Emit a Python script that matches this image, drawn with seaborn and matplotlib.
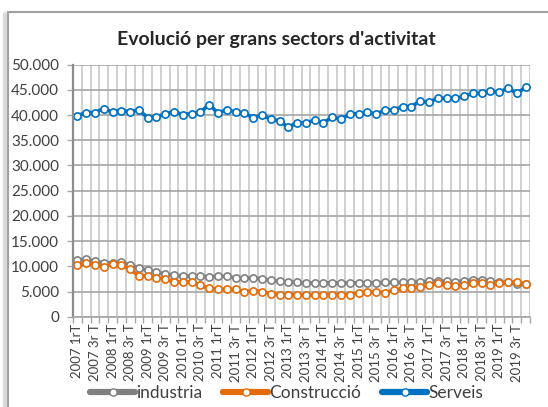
import numpy as np
import pandas as pd
import seaborn as sns
import matplotlib.pyplot as plt
from matplotlib.ticker import FuncFormatter, MultipleLocator
from matplotlib.lines import Line2D

sns.set_style("white")
plt.rcParams["font.family"] = ["Lato", "DejaVu Sans"]

# trimestres 2007 1rT - 2019 4t T
anys = list(range(2007, 2020))
trimestres = [f"{a} {q}" for a in anys for q in ["1rT", "2n T", "3r T", "4t T"]]

industria = [11.25, 11.4, 11.0, 10.7, 10.7, 10.8, 10.3, 9.7, 9.2, 8.8,
             8.5, 8.2, 8.1, 8.0, 8.0, 7.9, 8.0, 8.0, 7.7, 7.6,
             7.7, 7.5, 7.25, 7.0, 6.9, 6.8, 6.7, 6.7, 6.7, 6.7,
             6.7, 6.7, 6.7, 6.7, 6.7, 6.8, 6.8, 6.8, 6.8, 6.9,
             7.0, 7.1, 7.0, 6.9, 7.1, 7.3, 7.3, 7.1, 6.8, 6.8,
             6.5, 6.5]
construccio = [10.2, 10.6, 10.2, 9.9, 10.5, 10.2, 9.4, 8.1, 8.1, 7.7,
               7.5, 6.9, 6.9, 6.9, 6.2, 5.6, 5.4, 5.5, 5.4, 5.0,
               5.1, 5.0, 4.6, 4.35, 4.4, 4.4, 4.3, 4.3, 4.4, 4.4,
               4.4, 4.4, 4.7, 4.9, 4.9, 4.8, 5.2, 5.6, 5.7, 5.9,
               6.2, 6.6, 6.2, 6.1, 6.3, 6.6, 6.6, 6.3, 6.6, 6.8,
               6.9, 6.5]
serveis = [39.9, 40.5, 40.5, 41.3, 40.6, 40.9, 40.7, 41.0, 39.5, 39.7,
           40.2, 40.7, 40.1, 40.3, 40.6, 42.1, 40.4, 41.1, 40.6, 40.4,
           39.5, 40.0, 39.25, 38.8, 37.6, 38.5, 38.4, 39.0, 38.5, 39.6,
           39.2, 40.2, 40.3, 40.6, 40.2, 41.0, 41.0, 41.7, 41.7, 42.8,
           42.5, 43.4, 43.3, 43.3, 43.7, 44.3, 44.3, 44.7, 44.5, 45.4,
           44.3, 45.5]

sectors = ["industria", "Construcció", "Serveis"]
colors = ["#808080", "#E36C09", "#0070C0"]

idx = np.arange(len(trimestres))
df = pd.concat([
    pd.DataFrame({"pos": idx, "valor": np.array(v) * 1000, "sector": s})
    for s, v in zip(sectors, [industria, construccio, serveis])
])

fig = plt.figure(figsize=(5.48, 4.07), dpi=100)
ax = fig.add_axes([73/548, 1-316.7/407, 457/548, 252/407])

for s, c in zip(sectors, colors):
    sns.lineplot(data=df[df.sector == s], x="pos", y="valor", ax=ax, color=c,
                 marker="o", markersize=5.2, markerfacecolor="white",
                 markeredgecolor=c, markeredgewidth=1.2, linewidth=2.6,
                 errorbar=None, label=s, legend=False)

ax.set_xlim(-0.5, len(trimestres) - 0.5)
ax.set_ylim(0, 50000)
ax.yaxis.set_major_locator(MultipleLocator(5000))
ax.yaxis.set_major_formatter(FuncFormatter(lambda v, p: f"{int(v):,}".replace(",", ".")))
ax.set_xticks(idx[::2])
ax.set_xticklabels(trimestres[::2], rotation=90)
ax.set_xticks(np.arange(-0.5, len(trimestres)), minor=True)
ax.tick_params(axis="x", which="major", length=0, pad=5, labelsize=9.5, labelcolor="#404040")
ax.tick_params(axis="x", which="minor", length=4, width=1, color="#a6a6a6", direction="out", bottom=True)
ax.tick_params(axis="y", length=4, width=1, color="#a6a6a6", labelsize=11,
               labelcolor="#404040", left=True, pad=6)
ax.grid(False)
ax.grid(axis="y", which="major", color="#a6a6a6", linewidth=1.2)
ax.grid(axis="x", which="minor", color="#c8c8c8", linewidth=1.2)
ax.set_axisbelow(True)
ax.set_xlabel("")
ax.set_ylabel("")
for sp in ["top", "right"]:
    ax.spines[sp].set_visible(False)
ax.spines["left"].set_color("#8c8c8c")
ax.spines["left"].set_linewidth(1.6)
ax.spines["bottom"].set_color("#a6a6a6")
ax.spines["bottom"].set_linewidth(1.2)

fig.text(0.505, 1 - 40/407, "Evolució per grans sectors d'activitat",
         ha="center", va="center", fontsize=14, fontweight="bold", color="#262626")

handles = [Line2D([], [], color=c, linewidth=4.5, marker="o", markersize=5.2,
                  markerfacecolor="white", markeredgecolor=c) for c in colors]
fig.legend(handles, sectors, loc="center", bbox_to_anchor=(0.523, 1 - 393/407),
           ncol=3, frameon=False, fontsize=12.5, handlelength=2.6, handletextpad=0.05,
           columnspacing=1.2, labelcolor="#404040")

# marc del gràfic
fig.add_artist(Line2D([8/548, 8/548], [0, 1 - 12/407], color="#a0a0a0", linewidth=1.5,
                      transform=fig.transFigure))
fig.add_artist(Line2D([5/548, 5/548], [0, 1 - 14/407], color="#d9d9d9", linewidth=3,
                      transform=fig.transFigure))
fig.add_artist(Line2D([8/548, 1], [1 - 12/407, 1 - 12/407], color="#a0a0a0", linewidth=1.5,
                      transform=fig.transFigure))

fig.savefig("out.png", dpi=100)
